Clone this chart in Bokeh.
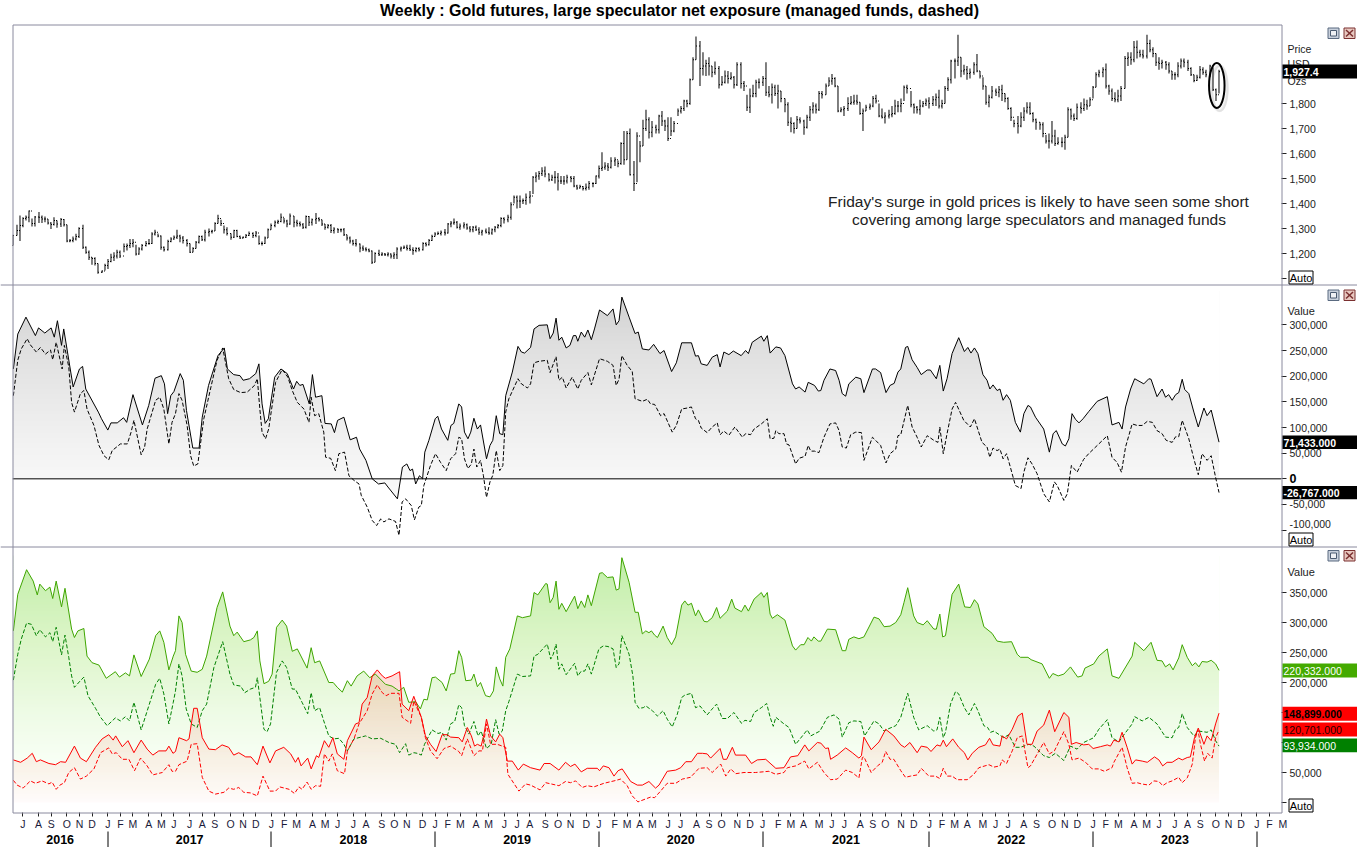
import numpy as np
import pandas as pd
from bokeh.core.properties import value
from bokeh.embed import file_html
from bokeh.resources import INLINE
from bokeh.layouts import column
from bokeh.models import LinearAxis, FixedTicker, Range1d, Span, NumeralTickFormatter
from bokeh.plotting import figure

TITLE = "Weekly : Gold futures, large speculator net exposure (managed funds, dashed)"
NOTE_1 = "Friday's surge in gold prices is likely to have seen some short"
NOTE_2 = "covering among large speculators and managed funds"
START_DATE = "2016-06-10"
YEARS = [2016, 2017, 2018, 2019, 2020, 2021, 2022, 2023]

# Weekly gold futures bars: (high, low, close)
gold_hlc = [
(1275,1232,1272),(1315,1272,1292),(1352,1250,1312),(1345,1305,1340),(1352,1332,1345),(1372,1325,1370),(1340,1308,1320),(1350,1308,1346),
(1366,1322,1345),(1352,1322,1338),(1348,1325,1338),(1338,1316,1322),(1325,1298,1316),(1345,1312,1332),(1332,1303,1318),(1342,1306,1336),
(1338,1308,1315),(1315,1245,1250),(1258,1245,1252),(1268,1245,1258),(1279,1252,1268),(1305,1262,1300),(1315,1218,1225),(1228,1199,1205),
(1212,1174,1185),(1185,1155,1180),(1185,1152,1160),(1160,1119,1125),(1132,1122,1130),(1159,1132,1152),(1178,1138,1168),(1199,1165,1185),
(1205,1170,1190),(1215,1180,1205),(1212,1182,1190),(1240,1205,1228),(1240,1212,1232),(1258,1222,1240),(1258,1225,1245),(1235,1192,1198),
(1225,1195,1218),(1238,1212,1232),(1250,1228,1240),(1258,1235,1240),(1285,1238,1278),(1295,1272,1285),(1280,1265,1270),(1272,1215,1225),
(1228,1208,1215),(1255,1212,1248),(1265,1245,1258),(1272,1255,1265),(1295,1258,1270),(1275,1245,1262),(1270,1240,1252),(1258,1228,1240),
(1240,1202,1205),(1225,1205,1220),(1250,1220,1245),(1272,1240,1268),(1272,1250,1255),(1295,1248,1285),(1300,1268,1288),(1295,1280,1290),
(1325,1290,1320),(1355,1320,1340),(1335,1310,1320),(1312,1280,1295),(1305,1272,1280),(1280,1255,1265),(1295,1262,1292),(1295,1265,1268),
(1272,1258,1262),(1268,1260,1265),(1278,1262,1272),(1288,1270,1280),(1285,1262,1272),(1290,1265,1282),(1272,1235,1240),(1248,1232,1240),
(1268,1238,1262),(1300,1262,1295),(1320,1295,1312),(1332,1305,1325),(1335,1318,1328),(1360,1325,1345),(1342,1320,1330),(1335,1305,1318),
(1360,1315,1350),(1350,1305,1325),(1335,1308,1320),(1328,1308,1315),(1322,1298,1305),(1352,1300,1348),(1350,1310,1325),(1340,1312,1335),
(1362,1318,1340),(1345,1328,1335),(1335,1310,1318),(1318,1295,1305),(1318,1300,1312),(1318,1282,1292),(1305,1280,1298),(1300,1282,1295),
(1300,1285,1295),(1302,1270,1275),(1275,1252,1262),(1268,1240,1250),(1255,1232,1240),(1258,1228,1238),(1240,1205,1222),(1232,1210,1218),
(1225,1208,1215),(1220,1205,1210),(1212,1158,1165),(1205,1165,1200),(1215,1190,1195),(1205,1190,1198),(1202,1190,1195),(1205,1188,1198),
(1200,1180,1190),(1205,1178,1195),(1225,1178,1218),(1228,1208,1222),(1232,1218,1225),(1235,1212,1220),(1235,1210,1215),(1225,1195,1212),
(1225,1205,1220),(1225,1208,1215),(1245,1212,1240),(1245,1228,1235),(1258,1232,1252),(1275,1250,1268),(1285,1268,1278),(1288,1275,1280),
(1292,1272,1285),(1298,1272,1282),(1322,1280,1318),(1330,1305,1322),(1340,1315,1325),(1330,1300,1305),(1320,1295,1310),(1325,1300,1315),
(1320,1295,1302),(1310,1285,1295),(1310,1285,1305),(1312,1290,1295),(1305,1275,1285),(1295,1272,1290),(1300,1280,1285),(1305,1275,1282),
(1300,1275,1295),(1310,1285,1305),(1318,1300,1312),(1345,1305,1340),(1345,1320,1335),(1355,1325,1345),(1405,1335,1395),(1432,1400,1425),
(1432,1380,1410),(1432,1382,1410),(1420,1398,1412),(1440,1395,1425),(1450,1400,1430),(1510,1438,1505),(1525,1485,1510),(1530,1495,1520),
(1545,1510,1530),(1548,1505,1518),(1520,1488,1495),(1515,1490,1505),(1530,1480,1505),(1522,1452,1490),(1510,1478,1490),(1510,1475,1490),
(1515,1480,1505),(1510,1485,1500),(1510,1465,1470),(1475,1455,1462),(1475,1460,1468),(1470,1452,1460),(1480,1452,1465),(1490,1455,1480),
(1485,1465,1480),(1512,1478,1510),(1552,1500,1540),(1605,1530,1545),(1565,1535,1550),(1562,1530,1545),(1585,1540,1570),(1585,1550,1575),
(1572,1545,1560),(1645,1555,1640),(1690,1555,1575),(1690,1575,1680),(1700,1512,1515),(1570,1450,1480),(1685,1485,1670),(1650,1565,1630),
(1735,1630,1700),(1775,1690,1735),(1745,1660,1685),(1730,1665,1705),(1715,1680,1695),(1755,1680,1750),(1770,1710,1730),(1735,1690,1710),
(1745,1650,1660),(1745,1670,1690),(1730,1685,1720),(1780,1750,1770),(1790,1760,1780),(1815,1770,1810),(1815,1785,1800),(1900,1795,1895),
(1985,1895,1975),(2068,1975,2030),(2050,1870,1940),(2005,1912,1950),(1975,1910,1960),(1985,1912,1950),(1950,1905,1925),(1968,1915,1940),
(1950,1860,1875),(1910,1872,1885),(1932,1880,1910),(1930,1880,1900),(1925,1895,1905),(1910,1860,1875),(1965,1870,1955),(1965,1860,1880),
(1890,1850,1870),(1835,1770,1785),(1860,1762,1830),(1875,1825,1840),(1895,1825,1885),(1900,1860,1885),(1910,1870,1900),(1965,1830,1845),
(1870,1825,1835),(1880,1800,1865),(1875,1830,1840),(1875,1780,1850),(1850,1805,1820),(1820,1765,1795),(1805,1710,1725),(1745,1685,1720),
(1725,1680,1700),(1750,1700,1735),(1745,1720,1730),(1735,1675,1705),(1755,1700,1745),(1790,1730,1775),(1805,1760,1790),(1800,1760,1775),
(1850,1770,1840),(1850,1820,1835),(1880,1835,1870),(1905,1870,1890),(1918,1875,1900),(1905,1865,1870),(1870,1765,1770),(1785,1765,1775),
(1790,1750,1780),(1825,1770,1800),(1830,1795,1805),(1835,1795,1810),(1835,1795,1805),(1805,1755,1760),(1780,1690,1770),(1795,1770,1785),
(1800,1775,1790),(1830,1785,1820),(1835,1800,1810),(1800,1745,1750),(1780,1740,1745),(1765,1720,1750),(1775,1740,1755),(1790,1745,1760),
(1815,1755,1790),(1810,1765,1790),(1820,1765,1800),(1872,1810,1865),(1875,1840,1860),(1850,1785,1795),(1800,1760,1785),(1790,1760,1775),
(1815,1755,1790),(1810,1785,1800),(1820,1790,1810),(1825,1780,1800),(1830,1790,1815),(1840,1790,1825),(1855,1780,1790),(1815,1780,1800),
(1870,1800,1860),(1905,1850,1895),(1975,1880,1970),(1980,1900,1970),(2075,1950,1985),(1985,1905,1930),(1955,1915,1935),(1950,1895,1920),
(1940,1900,1925),(1965,1915,1955),(1998,1925,1930),(1930,1900,1910),(1905,1855,1870),(1870,1795,1805),(1835,1785,1825),(1870,1820,1850),
(1860,1830,1845),(1870,1825,1855),(1875,1810,1840),(1840,1805,1820),(1825,1775,1780),(1785,1730,1745),(1735,1705,1720),(1750,1680,1710),
(1765,1705,1745),(1785,1730,1770),(1805,1760,1785),(1805,1755,1760),(1765,1725,1735),(1740,1695,1725),(1725,1695,1715),(1725,1665,1680),
(1675,1640,1650),(1680,1620,1650),(1730,1640,1670),(1695,1630,1640),(1665,1635,1645),(1665,1625,1645),(1675,1615,1665),(1785,1665,1775),
(1780,1735,1750),(1760,1730,1740),(1800,1735,1785),(1805,1760,1780),(1820,1770,1795),(1815,1775,1790),(1825,1790,1815),(1870,1820,1865),
(1925,1865,1915),(1935,1905,1925),(1945,1905,1935),(1960,1860,1870),(1875,1835,1850),(1860,1810,1820),(1845,1805,1815),(1855,1805,1830),
(1870,1810,1860),(1990,1860,1980),(2005,1950,1985),(2005,1955,1975),(2050,1965,2025),(2052,1980,2005),(2015,1985,1995),(2015,1980,1990),
(2075,1980,2040),(2055,2005,2015),(2025,1985,2000),(2000,1950,1965),(1985,1935,1960),(1975,1940,1965),(1970,1935,1955),(1965,1920,1930),
(1930,1895,1915),(1925,1895,1915),(1965,1905,1950),(1980,1940,1970),(1980,1945,1965),(1975,1930,1940),(1945,1910,1915),(1915,1885,1892),
(1915,1890,1905),(1950,1900,1935),(1945,1915,1925),(1935,1905,1915),(1955,1905,1950),(1945,1850,1855),(1860,1810,1835),(1935,1840,1927.4),
]

# Large speculator net position, thousand contracts: (week, value)
net_large_spec = [
(0,214),(1.4,282),(4,315),(7,279),(8,294),(10,284),(12,294),(13,276),(14,308),(15.3,260),(16,292),(19,179),(21,214),(22,219),(23,175),(27,130),(28,117),(30,95),(31,109),(33,109),(35,119),(36,110),(38,164),(41,105),(43,143),(45,196),(47,201),(48,185),(49,127),(50,162),(51,170),(53,205),(54,192),(55,133),(57,60),(59,60),(60,120),(62,182),(65,240),(67,255),(68,214),(70,203),(72,201),(73,192),(75,195),(77,205),(78,224),(79,146),(80,108),(81,117),(83,198),(85,214),(87,205),(89,175),(90,190),(91,182),(92,184),(94,146),(95,203),(96,159),(98,162),(99,108),(101,107),(102,90),(103,114),(105,120),(107,76),(109,81),(110,58),(112,36),(114,0),(116,-10),(118,-8),(119,-16),(122,-39),(123.6,23),(125,29),(126,16),(126.8,19),(127.8,-10),(129,6),(130,0),(130.7,52),(132,75),(134,117),(134.8,122),(136,97),(138,75),(139,104),
(139.9,108),(141.5,146),(142.4,140),(143.3,91),(144.4,78),(145.3,91),(146.3,118),(147.4,97),(148.4,105),(150.3,39),(151.4,65),(152.3,75),(153.4,123),(154.5,88),(155.5,86),(156.4,162),(158.5,208),(160.3,258),(161.4,247),(162.4,245),(164.3,256),(165.4,292),(167,299),(169.6,300),(170.5,273),(171.5,284),(172.4,313),(173.3,270),(174.2,276),(175.6,255),(176.8,260),(177.9,279),(178.7,279),(179.3,268),(180.4,286),(181.5,276),(182.5,290),(183.6,271),(184.6,292),(186.2,329),(188.7,318),(190.5,331),(191.5,300),(192.4,308),(193.3,354),(195.6,315),(197.5,283),(198.5,286),(199.8,253),(201.9,251),(203.4,262),(205.4,244),(206.7,250),(209.1,209),(210.6,226),(212.3,265),(215.4,265),(216.7,239),(217.6,240),(218.5,224),(220.4,221),(222,237),(223.6,242),(224.5,218),(225.7,247),(227.3,242),(228.7,249),(231.2,240),(232.6,250),(233.5,244),(234.7,266),(237.6,278),(238.4,268),(239.5,279),(240.4,245),(242.2,257),(243.7,255),(245.1,240),(247.5,185),(248.5,175),(249.6,179),(251.5,169),(252.5,188),(254.5,182),(255.7,171),(256.5,172),(257.5,192),(259.4,214),(261.2,211),(262.3,192),(263.3,166),(264.4,161),(265.4,185),(267.6,198),(269.2,195),(270.2,168),(272.9,214),(273.9,214),(275.5,207),(277.2,168),(278.5,182),(279.8,186),(281,208),(281.9,214),
(283.4,256),(284.1,258),(285.5,232),(287.1,217),(288.4,203),(290.3,212),(291.3,212),(293.2,195),(294.3,221),(295.4,171),(296.6,195),(298.2,244),(300.3,275),(302.1,248),(303.2,256),(304.2,245),(305.3,255),(306.4,244),(308,203),(309.3,192),(310.2,175),(311.2,183),(312.5,172),(313.4,175),(314.4,153),(315.5,164),(316.7,153),(318.3,110),(319.9,91),(321,127),(322.3,143),(323.1,140),(324.7,120),(327.3,97),(329.1,52),(330.3,88),(331.3,94),(333.2,68),(334.2,64),(335.3,78),(336.3,127),(337.4,116),(338.5,109),(339.8,117),(341.6,131),(344.3,151),(347.5,160),(349,105),(351.2,110),(352.2,97),(353.3,140),(354.9,175),(356.2,195),(359.1,185),(360.7,195),(361.4,194),(363.3,160),(364.9,175),(366,159),(367,164),(368.1,153),(369.2,164),(370.2,168),(371.3,194),(372.1,174),(373.4,166),(375,130),(376.4,101),(378.2,138),(379.2,123),(380.5,134),(383,71.433),
]

# Managed funds net position, thousand contracts
net_managed = [
(0,162),(1.4,231),(2.5,253),(4.4,273),(5.4,261),(7.3,247),(8.6,256),(10.2,243),(11.8,251),(12.5,232),(13.6,266),(15.5,214),(16.2,260),(17.6,218),(18.5,149),(19.4,130),(21.3,166),(22.4,172),(23.4,136),(25.6,104),(27.2,65),(28.8,45),(30.3,37),(31.4,55),(34,68),(36.2,68),(37.4,91),(38.3,114),(40.6,47),(41.7,62),(42.5,97),(45.2,153),(46.5,159),(47.8,136),(49.4,68),(50.4,110),(51.5,127),(52.6,166),(53.6,153),(55.2,104),(56.3,45),(57.3,25),(58.6,29),(60.5,117),(62.4,169),(64.7,231),(66.5,255),(68.4,195),(70,174),(72.2,168),(74.3,169),(76.6,182),(77.5,195),(78.3,136),(79,91),(80.1,78),(81.1,97),(83.3,188),(85.4,213),(87.2,198),(88.6,172),(90.2,149),(92.3,136),(93.9,110),(94.6,159),(95.7,123),(97,127),(98.6,91),(99.2,42),(100.8,40),(102.3,16),(103.4,49),(105.2,52),(106.6,6),(108.2,-3),(109.8,-10),(110.5,-32),(112.4,-55),(114,-81),(115.4,-91),(116.7,-78),(117.7,-84),(119.3,-78),(121.4,-83),(122.5,-110),(123.5,-45),(124.6,-39),(126.4,-52),(127.4,-80),(128.8,-55),(129.6,-52),(130.4,-13),(132.5,26),(134.1,49),(135.7,32),(137.5,16),(138.9,39),
(140.5,49),(141.5,81),(142.4,78),(143.3,39),(144.4,20),(145.5,29),(146.3,58),(147.2,23),(148.4,36),(149.3,7),(150.3,-36),(151.4,-6),(152.3,7),(153.4,55),(154.5,16),(155.5,26),(156.4,130),(157.4,156),(160.3,195),(161.4,185),(163.3,177),(164.3,185),(165.4,226),(167,229),(169.6,231),(170.5,207),(172.4,238),(173.3,192),(174.4,198),(175.6,177),(177.5,198),(179.3,175),(180.4,192),(182.5,207),(183.6,183),(186.2,234),(188.7,229),(190.5,221),(191.5,182),(192.4,194),(193.3,240),(195,221),(196.6,209),(197.5,156),(199.8,151),(201.4,155),(202.4,146),(203.7,145),(205.6,123),(206.7,127),(209.3,91),(210.6,104),(212.3,136),(214.1,138),(215.4,140),(216.7,117),(217.6,114),(218.5,99),(220.4,90),(222,101),(223.6,109),(224.5,86),(225.7,93),(227.3,85),(229.2,101),(231.6,81),(232.6,88),(234.2,86),(235.3,97),(237.6,107),(239.5,117),(240.4,78),(241.6,79),(242.2,94),(243.2,88),(244.8,88),(245.6,68),(246.4,66),(248.5,29),(249.6,40),(251.5,44),(252.5,65),(253.3,54),(254.5,54),(255.9,51),(257.5,81),(259.4,107),(261.2,109),(262.3,94),(263.3,62),(264.6,60),(266,86),(267.6,91),(269.4,90),(270.2,36),(272.9,81),(273.9,75),(275.5,65),(277.2,31),(278.5,49),(280.3,58),(281,84),(281.9,86),
(284.1,143),(285.5,101),(287.1,81),(288.4,62),(290.3,84),(292.4,75),(293.7,71),(294.3,101),(295.4,49),(296.6,88),(298.2,136),(299.3,149),(301.9,114),(304,101),(305.3,117),(307.7,71),(309.3,62),(310.2,42),(311.2,60),(312.5,55),(313.4,58),(314.4,39),(315.5,49),(316.7,23),(318.3,-13),(320.1,-19),(321,13),(322.3,41),(323.6,29),(325.2,10),(327.3,-29),(329.1,-45),(330.7,-6),(331.6,-13),(333.7,-42),(334.8,-29),(336.1,26),(337.9,13),(340,38),(341.6,49),(344.3,65),(347.5,84),(349,42),(350.6,32),(352,13),(353.3,62),(355.4,107),(357,104),(358.6,104),(360.2,112),(361.8,110),(363.3,94),(364.9,88),(366.2,75),(368.1,71),(369.2,82),(370.2,82),(371.3,114),(373.4,78),(375,39),(376.4,8),(377.6,49),(379.2,36),(380.5,45),(381.9,3),(383,-26.767),
]

# Large speculator longs, thousand contracts
long_large_spec = [
(0,286),(1.4,347),(4.2,388),(6.3,369),(7.6,346),(8.4,364),(10.2,353),(11.6,359),(12.5,340),(13.6,369),(15.3,326),(16.4,357),(18.5,289),(19.4,275),(20.5,286),(22.4,290),(23.4,244),(25,233),(27.2,229),(29.5,207),(32.4,218),(33.7,209),(35.6,216),(36.9,211),(38.3,246),(40.6,210),(43.2,239),(45.2,278),(46.5,286),(47.8,267),(49.4,221),(50.8,244),(51.5,253),(52.6,311),(53.6,300),(54.7,247),(56.5,219),(58.4,217),(60,222),(61.4,244),(64.7,325),(66.5,351),(68.8,294),(70,278),(71.1,284),(73.2,268),(75.3,271),(76.4,275),(77.5,286),(78.3,236),(79.6,198),(81.1,202),(82.2,214),(83.6,292),(85.4,304),(86.8,294),(88.6,252),(90.2,256),(93.3,224),(94.6,258),(95.7,233),(97.3,236),(100.2,200),(101.6,200),(102.9,192),(104.5,184),(106.1,203),(107.3,194),(109.2,211),(111.3,219),(113.2,208),(115,214),(118.2,197),(120.3,194),(121.7,189),(122.5,186),(124,192),(125.6,167),(127.8,168),(129.3,156),(130.4,172),(131.5,171),(133,208),(134.1,209),(136.2,200),(137.5,186),(138.9,214),
(140.2,215),(141.5,253),(142.4,242),(143.7,203),(145.5,204),(146.3,214),(147.4,193),(148.4,200),(150,178),(151.4,176),(152.5,186),(153.4,226),(154.5,206),(155.5,194),(156.4,242),(157.7,256),(160.1,311),(161.7,308),(164.3,311),(165.4,350),(166.6,346),(169.1,365),(169.6,364),(170.5,333),(171.5,342),(172.4,369),(173.3,322),(174.2,332),(175.6,318),(178.3,344),(179.3,323),(180.4,336),(181.5,325),(182.5,346),(183.6,328),(186.2,382),(187.1,383),(188.7,375),(190.5,376),(191.5,354),(192.4,356),(193.3,408),(195.6,367),(197.5,317),(198.5,317),(199.8,281),(200.9,286),(201.9,283),(202.7,286),(203.7,279),(204.6,275),(206.4,294),(207.7,275),(209.1,263),(210.4,276),(212.3,329),(213.3,336),(214.3,329),(215.4,332),(216.7,311),(217.6,321),(219.4,302),(220.4,301),(222,308),(223.4,325),(224.5,307),(226.8,319),(228.2,339),(229.2,324),(231.3,318),(232.4,329),(233.5,319),(235.3,339),(237.6,350),(238.4,342),(239.5,350),(240.4,314),(241.1,307),(242.7,313),(245.1,304),(247.5,261),(248.5,254),(250.1,263),(251.2,263),(252.4,275),(253.5,269),(254.3,276),(255.7,269),(256.5,269),(258.6,289),(261.2,288),(263.3,253),(264.4,253),(265.4,272),(267,276),(268.6,273),(270.2,276),(273.4,309),(275,306),(276.6,293),(278.5,294),(280.3,300),(281.9,313),
(282.9,333),(284.1,358),(286,311),(287.1,300),(289,296),(290.3,303),(292.4,289),(293.2,289),(294.3,314),(295.2,276),(296.1,278),(298.2,347),(300.3,364),(302.2,326),(304,325),(305.3,338),(306.4,331),(308.3,293),(310.9,282),(312.5,269),(314.6,267),(317.1,268),(318.9,247),(319.9,242),(322.3,242),(323.3,238),(326.8,231),(329.1,207),(330.2,215),(331.9,211),(333.7,214),(335.8,226),(338.1,209),(339.5,211),(340.4,224),(343.2,231),(344.8,244),(347.5,256),(349,211),(351.2,207),(355.4,244),(356.2,267),(359.1,253),(361.4,267),(363.3,237),(364.9,236),(366,226),(367.3,231),(368.4,221),(370.2,241),(371.3,263),(372.9,242),(374.5,228),(375.5,233),(376.6,226),(377.6,235),(379.2,234),(380.5,237),(381.9,231),(383,220.332),
]

# Managed funds longs, thousand contracts
long_managed = [
(0,204),(1.4,247),(2.5,272),(4.2,299),(5.7,297),(7.3,278),(8.4,288),(10.2,276),(11.6,283),(12.5,268),(13.6,292),(15.3,246),(16.4,279),(17.6,242),(18.5,211),(19.4,192),(21.3,203),(22.4,209),(23.7,178),(26.1,157),(27.7,142),(29.8,128),(32.4,141),(34,136),(35.6,143),(36.9,136),(38.3,167),(40.6,121),(43.2,164),(45.2,197),(46.5,207),(47.8,181),(49.4,131),(50.8,167),(51.5,186),(52.6,231),(53.6,211),(54.9,156),(56.5,131),(58.4,125),(60,153),(61.4,164),(63.7,225),(66.5,268),(68.8,214),(70,196),(72.2,194),(73.5,183),(75.3,189),(76.9,192),(77.5,208),(78.3,175),(79.6,122),(80.6,118),(81.7,131),(83.6,217),(85.4,236),(86.8,225),(88.6,189),(89.6,189),(91.7,167),(93.5,148),(94.6,183),(95.7,153),(97.3,158),(98.6,136),(100.2,111),(101.8,106),(103.4,107),(105,97),(106.1,86),(108.2,106),(111.9,111),(114,106),(116.7,107),(119.3,100),(121.4,97),(122.7,83),(124.6,98),(125.6,79),(127.2,83),(128.3,82),(129.6,79),(130.6,97),(133,121),(134.9,115),(136.2,117),(137.5,104),(138.9,131),
(140.2,135),(141.5,163),(142.4,158),(143.3,128),(144.7,114),(146.3,135),(147.6,111),(148.6,119),(150.3,90),(151.8,97),(153.2,138),(154.3,114),(155.3,119),(156.4,153),(157.4,168),(160.1,214),(161.7,210),(164.3,211),(165.4,244),(166.6,247),(169.6,264),(170.7,239),(171.5,247),(172.4,264),(173.3,222),(174.2,231),(175.6,213),(178.3,232),(179.3,211),(180.4,219),(181.5,219),(182.5,231),(183.6,214),(186,256),(187.4,261),(188.9,260),(190.5,256),(191.5,225),(192.4,231),(193.3,278),(195.6,247),(196.8,211),(197.5,167),(198.7,157),(200.1,158),(200.9,161),(203,153),(204.6,144),(206.4,153),(207.7,139),(209.3,126),(210.9,147),(212.3,175),(213.3,179),(215.4,182),(216.7,158),(218.1,161),(220.4,146),(222,156),(223.4,164),(225.2,140),(226.8,140),(228.9,150),(231.3,132),(232.4,137),(234.2,135),(235.3,150),(237.6,158),(239.3,165),(240.4,142),(241.4,127),(242.2,142),(244.8,131),(246.4,125),(248.5,97),(252.2,121),(253.3,111),(256.2,119),(258.6,142),(260.7,146),(262.3,139),(263.3,109),(265.4,133),(267,136),(269.2,135),(270.4,111),(273.4,136),(275,131),(276.6,119),(277.6,122),(280.3,128),(281.9,142),
(284.1,182),(286,142),(287.6,121),(290.3,128),(292.4,119),(293.4,121),(294.3,142),(295.4,108),(296.1,117),(297.7,164),(299.3,185),(300.3,181),(302.1,158),(303.5,146),(305.3,165),(306.4,153),(308.3,128),(309.5,125),(310.4,117),(311.5,119),(314.6,108),(316.2,113),(318.3,92),(319.9,92),(322.6,97),(324.2,94),(327.3,78),(329.1,75),(331,82),(333.7,70),(335.8,94),(337.9,89),(340,100),(343.2,108),(344.8,122),(347.5,138),(349,108),(351.2,101),(352.5,111),(355.4,131),(356.2,143),(358.6,136),(360.7,142),(363.3,131),(366,109),(368.1,108),(369.2,122),(370.2,125),(371.3,148),(372.9,125),(375,111),(376.6,119),(379.2,117),(380.5,121),(381.9,103),(383,93.934),
]

# Large speculator shorts, thousand contracts
short_large_spec = [
(0,71),(2.3,67),(4.4,74),(6,82),(7.3,68),(8.6,71),(11.3,65),(13.4,63),(15,68),(16.6,67),(19.4,94),(21.3,74),(23.2,68),(26.1,92),(28.2,106),(30.3,113),(31.7,104),(32.5,111),(34.6,93),(36.4,103),(38.3,83),(40.6,104),(42.5,89),(44.3,79),(46.2,86),(48.5,86),(49.4,94),(50.7,82),(51.5,85),(52.6,108),(55,103),(55.8,106),(57.3,157),(58.4,157),(60,108),(62.1,89),(64.2,88),(66.3,96),(68.4,92),(70,79),(71.6,83),(73.8,76),(75.5,76),(77.5,63),(79.3,94),(81.5,66),(83.3,86),(85.9,92),(88.1,81),(89.6,67),(90.5,75),(91.4,61),(93.5,74),(94.6,56),(96.3,78),(97,75),(98.8,103),(100.2,92),(101.5,108),(102.9,81),(105,72),(106.1,103),(108.7,131),(109.8,133),(110.8,164),(112.4,175),(114,211),(115.6,221),(117.2,211),(118.2,207),(120.3,211),(122.7,218),(123.5,164),(125.6,153),(127.2,177),(129.6,142),(130.9,111),(132.5,97),(134.3,85),(136.2,113),(137.8,113),(138.9,109),
(141.5,108),(142.6,101),(144.2,125),(145.5,111),(146.5,94),(147.4,97),(148.6,94),(149.5,114),(150.3,139),(151.6,111),(153.2,101),(154.5,114),(155.5,108),(156.9,69),(158.5,69),(160.4,54),(162,64),(164.3,58),(167.3,54),(168.6,65),(170.5,65),(173.3,54),(175.4,67),(177,60),(178.4,64),(180.4,51),(182.3,57),(185.5,57),(186.2,53),(187.4,61),(189.2,58),(190.8,44),(192.1,53),(193.4,56),(196.1,35),(198.2,29),(199.8,29),(201.9,35),(204,24),(205.1,29),(207.7,52),(210.4,54),(212,58),(213.6,68),(215.4,68),(217.3,82),(218.9,82),(220.4,81),(221.5,74),(224.5,90),(225.5,72),(226.6,72),(228.4,92),(229.4,79),(232.6,79),(234.5,65),(236.3,71),(239,72),(242.2,57),(244.8,58),(246.9,76),(249.2,78),(251.4,96),(252.7,86),(255.4,100),(256.5,99),(258,90),(258.9,91),(259.6,72),(261.7,79),(264.4,91),(266.5,83),(268.6,74),(269.4,78),(270.2,109),(272.5,88),(275,101),(277.1,122),(279.7,111),(281.9,96),
(283.1,92),(284.8,100),(287.1,83),(288.4,94),(290.3,92),(291.5,85),(293.4,96),(294.5,94),(295.4,104),(296.4,93),(298.4,106),(300.3,92),(302.1,83),(303.2,71),(304.6,82),(306.7,92),(308.8,96),(310.1,107),(311.2,96),(313.4,94),(314.1,111),(315.5,106),(317.3,122),(319.1,144),(320.5,149),(322,97),(323.6,97),(325.2,119),(327.3,129),(329.1,154),(330.8,118),(333.7,150),(335.3,142),(336.1,97),(337.6,100),(340,96),(341.6,97),(343,90),(345.3,93),(347.5,96),(348.5,94),(349.6,104),(351.2,101),(352.2,117),(353.8,92),(355.4,64),(356.5,71),(358.6,69),(360.2,67),(362.5,76),(363.9,71),(365.1,61),(366.5,67),(368.1,67),(370.2,74),(371.3,71),(372.9,75),(373.9,76),(375.2,108),(376.4,124),(378.2,97),(379.2,111),(380.5,103),(381.9,131),(383,148.899),
]

# Managed funds shorts, thousand contracts
short_managed = [
(0,37),(1.2,29),(3.1,24),(5.4,36),(7,32),(9.1,36),(11.3,31),(12.3,34),(13.6,22),(14.8,29),(16.2,33),(17.6,50),(19.4,58),(21.3,39),(23.2,44),(25.6,56),(27.7,83),(30.3,91),(31.4,81),(32.7,83),(34.6,72),(36.7,72),(38.5,53),(40.4,74),(42.5,61),(44.3,46),(47.3,50),(49.4,63),(50.4,52),(51.5,52),(52.6,63),(55.2,69),(56.5,97),(58.4,98),(60,42),(62.1,19),(64.2,14),(66.9,17),(68.4,24),(70,22),(71.6,25),(73.2,17),(75.3,16),(77.5,11),(79.3,44),(81.5,19),(83.3,19),(84.6,26),(87.6,22),(89.3,15),(90.7,26),(91.7,22),(93.3,34),(94.6,22),(96,28),(97.6,27),(98.8,81),(100.2,69),(101.3,81),(102.9,53),(105.2,48),(106.1,86),(108.2,106),(109.8,131),(112.4,153),(114,181),(115.6,196),(117.2,183),(118.4,178),(119.8,182),(122.5,182),(123.5,142),(126.2,132),(127.2,169),(129.6,142),(130.9,108),(132.5,86),(134.6,73),(136.8,90),(138.9,94),
(141.5,85),(142.4,78),(144.2,106),(146.3,78),(147.9,86),(149,86),(150.3,131),(151.6,97),(153.7,97),(156.4,92),(157.1,47),(160.6,19),(162.7,31),(164.3,29),(167.3,21),(169.1,33),(173.3,28),(175.4,35),(177,33),(178.6,36),(180.7,25),(182.3,28),(184.4,26),(187.6,32),(190.8,36),(192.9,39),(195,28),(196.6,11),(198.4,1),(202.4,9),(203.7,8),(205.6,19),(207.7,32),(210.4,32),(212.5,39),(215.1,42),(217.8,57),(220.4,58),(222,50),(224.7,64),(226.3,44),(227.9,56),(229.4,48),(232.1,50),(235.8,50),(240,52),(242.2,47),(244.8,50),(245.9,58),(248.5,61),(251.4,69),(252.7,56),(255.4,67),(257.5,50),(259.6,38),(261.7,39),(264.4,54),(266.5,50),(268.6,41),(269.7,75),(270.2,76),(272.5,50),(274.5,61),(276,67),(277.1,85),(278.5,72),(279.7,72),(281.9,53),
(283.4,42),(285,44),(287.1,46),(288.4,57),(290.8,44),(292.9,44),(294.3,40),(295.4,57),(296.6,44),(298.2,44),(299.8,38),(303,38),(305.1,47),(306.7,58),(309.9,63),(311.5,59),(313.4,61),(314.1,71),(315.5,65),(317.3,86),(318.9,108),(320.5,111),(322.3,58),(323.1,61),(327.3,100),(329.1,81),(330.7,86),(333.7,118),(335.3,97),(336.3,71),(338.5,74),(340.6,67),(342.7,56),(344.8,56),(346.6,52),(349,58),(349.6,67),(352.2,92),(353.8,58),(355.4,32),(357,33),(358.3,31),(360.7,29),(362.3,36),(363.9,35),(365.1,28),(366.5,33),(368.1,36),(370.2,42),(371.3,33),(372.9,41),(374.5,64),(375.5,108),(376.3,121),(377.1,97),(378.4,69),(379.4,82),(380.8,74),(381.9,108),(383,120.701),
]

# Page geometry of the original screenshot
W, H = 1357, 847
FL, FR = 12, 1281
PXW = 3.148                # pixels per week
X0 = -0.273
XR = (X0, X0 + (FR - FL) / PXW)
ZERO2, PX2 = 478.33, 0.5133   # panel 2: zero line and px per thousand
ZERO3, PX3 = 802.0, 0.6       # panel 3
BORDER = "#8a8a9e"
FONT = "Liberation Sans"

def week_px(w):
    return FL + (w - X0) * PXW

def make(height, top, bottom, yr, ticks, over, **kw):
    p = figure(width=W, height=height, x_range=Range1d(*XR), y_range=Range1d(*yr),
               output_backend="svg", toolbar_location=None, y_axis_location="right",
               min_border_left=FL, min_border_right=W - FR, min_border_top=top, min_border_bottom=bottom,
               background_fill_color="white", border_fill_color="white",
               outline_line_color=None, **kw)
    ax = p.yaxis[0]
    ax.ticker = FixedTicker(ticks=ticks)
    ax.formatter = NumeralTickFormatter(format="0,0")
    ax.major_label_overrides = over
    ax.axis_line_color = None
    ax.major_tick_line_color = "#222222"
    ax.major_tick_in = 0
    ax.major_tick_out = 5
    ax.minor_tick_out = 0
    ax.minor_tick_in = 0
    ax.major_label_standoff = 3
    ax.major_label_text_font = FONT
    ax.major_label_text_font_size = "10.5px"
    ax.major_label_text_color = "#222222"
    p.grid.visible = False
    return p

# Panel 1: price bars
y1px = lambda y: 1800 + 4 * (103 - y)
p1 = make(285, 24, 0, (y1px(285), y1px(24)), [1100, 1200, 1300, 1400, 1500, 1600, 1700, 1800],
          {1100: ""}, x_axis_type=None)
high, low, close = map(np.array, zip(*gold_hlc))
weeks = np.arange(len(close))
open_ = np.r_[low[0], close[:-1]]
# bars are drawn on whole screen pixels, as in the source terminal
bar_x = (np.floor(12.86 + PXW * weeks) + 0.5 - 12.86) / PXW
tick = 1.0 / PXW
p1.segment(bar_x, low, bar_x, high, line_color="black", line_width=1)
p1.segment(bar_x - tick, open_, bar_x, open_, line_color="black", line_width=1)
p1.segment(bar_x, close, bar_x + tick, close, line_color="black", line_width=1)
# Oval marking the last bar, with its soft shadow
OVAL_W, OVAL_P, OVAL_WIDTH, OVAL_HEIGHT = (1216.3 - FL) / PXW + X0, y1px(85), 15.5 / PXW, 180
for off, lw, a in [(2.5, 3.5, 0.08), (3.0, 2, 0.10)]:
    p1.ellipse(OVAL_W + off / PXW, OVAL_P - off * 4, width=OVAL_WIDTH, height=OVAL_HEIGHT, fill_color=None,
               line_color="#555555", line_alpha=a, line_width=lw)
p1.ellipse(OVAL_W, OVAL_P, width=OVAL_WIDTH, height=OVAL_HEIGHT, fill_color=None, line_color="black", line_width=2)

# Helpers for the gradient areas: colour stops by screen row
def shade(y_px, stops):
    ys, cols = zip(*stops)
    cols = np.array(cols, float)
    return "#%02x%02x%02x" % tuple(int(round(np.interp(y_px, ys, cols[:, c]))) for c in range(3))

def dense(series):
    w, v = map(np.array, zip(*series))
    xs = np.union1d(w, np.arange(0, 383.01, 0.5))
    return w, v, xs, np.interp(xs, w, v)

# Panel 2: net positions
y2 = lambda y: (ZERO2 - y) / PX2 * 1000
p2 = make(262, 0, 0, (y2(547), y2(285)), [300000, 250000, 200000, 150000, 100000, 50000, 0, -50000, -100000],
          {-100000: "", 0: ""}, x_axis_type=None)
GRAY = [(285, (206,) * 3), (340, (222,) * 3), (400, (234,) * 3), (478, (248,) * 3), (546, (253,) * 3)]
for y_px in range(290, 545, 2):
    p2.quad(left=0, right=383, top=y2(y_px), bottom=y2(y_px + 2.5), fill_color=shade(y_px, GRAY), line_color=None)
w, v, xs, ys = dense(net_large_spec)
p2.varea(xs, y1=np.maximum(ys, 0) * 1000, y2=y2(280), fill_color="white")
p2.varea(xs, y1=y2(550), y2=np.minimum(ys, 0) * 1000, fill_color="white")
p2.add_layout(Span(location=0, dimension="width", line_color="black", line_width=1))
p2.line(w, v * 1000, line_color="black", line_width=1)
w, v = map(np.array, zip(*net_managed))
p2.line(w, v * 1000, line_color="black", line_width=1, line_dash="4 2")

# Panel 3: long and short positions
y3 = lambda y: (ZERO3 - y) / PX3 * 1000
p3 = make(300, 0, 35, (y3(812), y3(547)), [350000, 300000, 250000, 200000, 150000, 100000, 50000, 0],
          {150000: "", 100000: "", 0: ""}, x_axis_type=None)
GREEN = [(555, (193, 238, 168)), (640, (220, 245, 200)), (713, (238, 251, 230)), (760, (248, 255, 245)), (802, (255, 255, 255))]
for y_px in range(555, 802, 2):
    p3.quad(left=0, right=383, top=y3(y_px), bottom=y3(y_px + 2.5), fill_color=shade(y_px, GREEN), line_color=None)
w, v, xs, ys = dense(long_large_spec)
p3.varea(xs, y1=ys * 1000, y2=y3(545), fill_color="white")
# Translucent shorts area, graded in 3 pixel rows
_, _, xs, ys = dense(short_large_spec)
for y_px in range(667, 802, 3):
    hi, lo = (ZERO3 - y_px) / PX3, (ZERO3 - y_px - 3) / PX3
    a = 0.22 - 0.20 * (y_px - 667) / (802 - 667)
    p3.varea(xs, y1=lo * 1000, y2=np.clip(ys, lo, hi) * 1000, fill_color="#ff5a46", fill_alpha=a)
for series, col, dash in [(long_managed, "#008000", "4 2"), (short_managed, "#ff0000", "4 2"),
                          (long_large_spec, "#3fa500", "solid"), (short_large_spec, "#ff0000", "solid")]:
    w, v = map(np.array, zip(*series))
    p3.line(w, v * 1000, line_color=col, line_width=1, line_dash=dash)

# Month axis
fridays = pd.date_range(START_DATE, periods=420, freq="7D")
firsts = pd.Series(np.arange(420), index=fridays).groupby([fridays.year, fridays.month]).first()
right_week = XR[1]
month_ticks, month_over = [], {}
for (yy, mm), idx in firsts.items():
    if (yy == 2016 and mm == 6) or idx > right_week:
        continue
    month_ticks.append(int(idx))
    month_over[int(idx)] = "JFMAMJJASOND"[mm - 1]
month_axis = LinearAxis(ticker=FixedTicker(ticks=month_ticks), major_label_overrides=month_over,
                        axis_line_color=None, major_tick_in=0, major_tick_out=4, minor_tick_out=0, minor_tick_in=0,
                        major_tick_line_color="#222222", major_label_standoff=1, major_label_text_font=FONT,
                        major_label_text_font_size="10.5px", major_label_text_color="#1a1a3a")
p3.add_layout(month_axis, "below")

# Page furniture on a transparent layer that spans the whole window (screen pixel coordinates)
ov = figure(width=W, height=H, x_range=Range1d(0, W), y_range=Range1d(H, 0), x_axis_type=None, y_axis_type=None,
            output_backend="svg", toolbar_location=None, min_border=0, outline_line_color=None,
            background_fill_color=None, border_fill_color=None, margin=(-H, 0, 0, 0))
ov.grid.visible = False

def txt(x, y, text, color="#222222", size="10.5px", style="normal", align="left"):
    ov.text([x], [y], text=[text], text_color=color, text_font=value(FONT), text_font_size=size,
            text_font_style=style, text_align=align, text_baseline="middle")

def box(l, r, t, b, fill, line=None):
    ov.quad(left=l, right=r, top=t, bottom=b, fill_color=fill, line_color=line, line_width=1)

def rule(x0, y0, x1, y1, color=BORDER, width=1):
    ov.segment(x0, y0, x1, y1, line_color=color, line_width=width)

rule(12.5, 24.5, 1281.5, 24.5)
rule(12.5, 24.5, 12.5, 812.5)
rule(1281.5, 24.5, 1281.5, 812.5)
rule(12.5, 812.5, 1281.5, 812.5)
rule(0, 284.5, W, 284.5)
rule(0, 546.5, W, 546.5)

txt(679, 9.5, TITLE, color="black", size="16px", style="bold", align="center")
txt(1038, 201, NOTE_1, size="15.5px", align="center")
txt(1038.5, 218.5, NOTE_2, size="15.5px", align="center")

for top in (27.5, 289.5, 550):
    box(1327.5, 1338.5, top, top + 10.5, "#c8d0dc", "#5a6a80")
    box(1330, 1336, top + 2.5, top + 8, "#eef0f4", "#4a5a70")
    box(1343.5, 1354.5, top, top + 10.5, "#e8c8c0", "#7a3030")
    rule(1345.5, top + 2, 1352.5, top + 8.5, "#7a3030", 1.5)
    rule(1352.5, top + 2, 1345.5, top + 8.5, "#7a3030", 1.5)

for x, y, t in [(1287, 48, "Price"), (1287, 63.5, "USD"), (1287, 80, "Ozs"), (1289, 523, "-100,000")]:
    txt(x, y, t)
txt(1287, 310, "Value", size="11px")
txt(1287, 571, "Value", size="11px")
txt(1289, 478.3, "0", color="black", size="12.5px", style="bold")

VALUE_BOXES = [
    (64, 78, "black", "1,927.4", "white", "bold"),
    (435, 448.5, "black", "71,433.000", "white", "bold"),
    (485.5, 498.8, "black", "-26,767.000", "white", "bold"),
    (663, 677, "#44aa00", "220,332.000", "white", "normal"),
    (706.3, 720.3, "#ff0000", "148,899.000", "black", "bold"),
    (722, 736, "#ff0000", "120,701.000", "#220000", "normal"),
    (738, 751.7, "#008000", "93,934.000", "white", "normal"),
]
for t, b, fill, label, col, st in VALUE_BOXES:
    box(1282, W, t, b, fill)
    txt(1283, (t + b) / 2 + 0.3, label, color=col, style=st)

for t, b in [(270.5, 283.5), (532.5, 545.5), (798.5, 811.5)]:
    box(1288.5, 1312.5, t, b, "white", "black")
    txt(1300.5, (t + b) / 2 + 0.3, "Auto", color="black", size="11px", align="center")

# Year row under the month axis
starts = [int(firsts[(y, 1)]) for y in YEARS[1:]] + [int(firsts[(2024, 1)])]
edges = [X0] + starts
for yr_label, a, b in zip(YEARS, edges[:-1], edges[1:]):
    txt((week_px(a) + week_px(b)) / 2, 838.5, str(yr_label), color="black", size="12.5px", style="bold", align="center")
for s in starts:
    x = np.floor(week_px(s)) + 0.5
    rule(x, 831, x, 847, "black")
txt(1278, 823, "M", color="#1a1a3a")

# The panels align their frames with each other; the full window layer stays outside that alignment
panels = column(p1, p2, p3, spacing=0, margin=0)
page = column(panels, ov, spacing=0, margin=0)
open("out.html", "w").write(file_html(page, INLINE))
